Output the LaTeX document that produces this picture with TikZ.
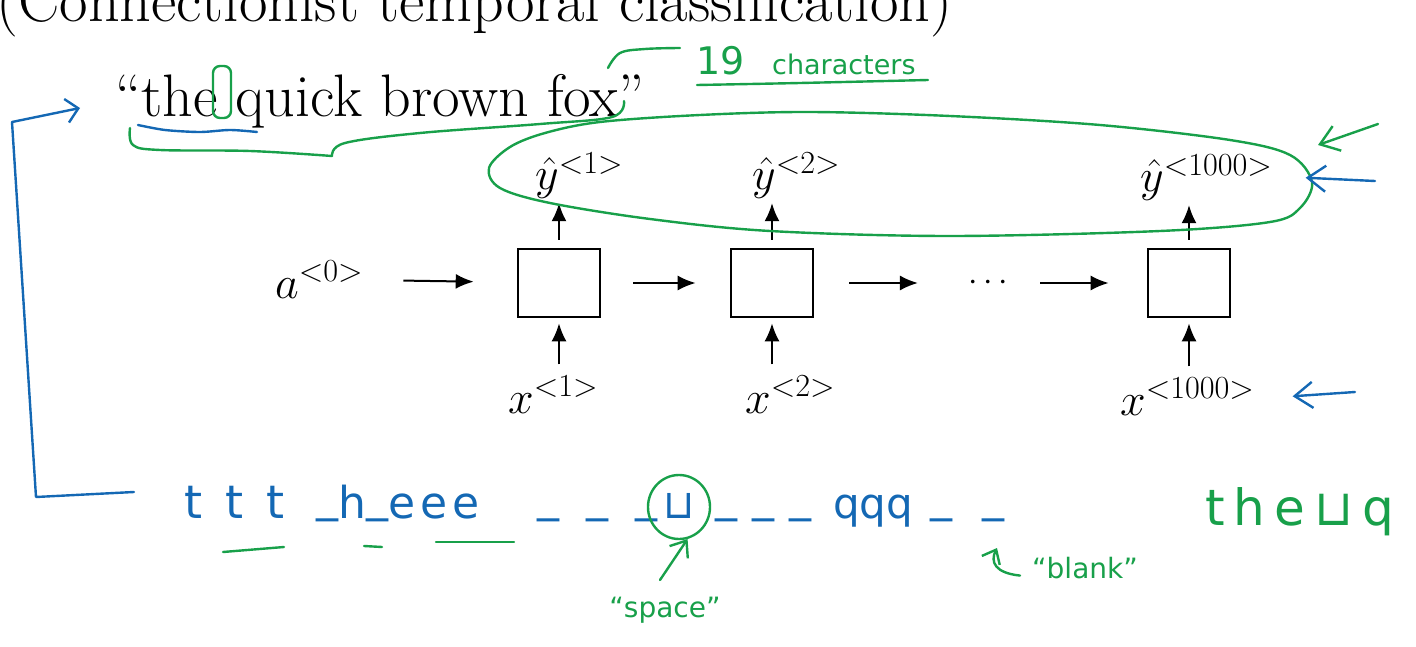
\RequirePackage{fix-cm}
\documentclass[tikz,border=0pt]{standalone}
\usepackage{fontspec}
\newfontfamily\handfont{DejaVu Sans}
\usetikzlibrary{shapes.geometric,arrows.meta,positioning}
\definecolor{penblue}{RGB}{20,104,180}
\definecolor{pengreen}{RGB}{24,160,74}
\newcommand{\ctcblank}{\raisebox{7pt}{\_}}
\tikzstyle{cell} = [rectangle, draw, line width=2.6pt, minimum width=82pt, minimum height=68pt, inner sep=0pt]
\tikzstyle{lbl} = [inner sep=0pt, anchor=base west, font=\fontsize{46}{50}\selectfont]
\tikzstyle{line} = [draw, line width=2pt, -{Latex[length=18pt,width=15pt]}]
\tikzstyle{bluepen} = [draw=penblue, line width=2.4pt, line cap=round, line join=round]
\tikzstyle{greenpen} = [draw=pengreen, line width=2.4pt, line cap=round, line join=round]
\tikzstyle{barb} = [-{Straight Barb[length=18pt,width=26pt]}]
\tikzstyle{blueink} = [text=penblue, inner sep=0pt, anchor=base west]
\tikzstyle{greenink} = [text=pengreen, inner sep=0pt]

\begin{document}
\begin{tikzpicture}[x=1pt, y=-1pt]
  \useasboundingbox (0,0) rectangle (1416,647);
  % heading and target text
  \node [anchor=base west, inner sep=0pt, font=\fontsize{62}{66}\selectfont] (title) at (-4,22) {(Connectionist temporal classification)};
  \node [anchor=base west, inner sep=0pt, font=\fontsize{60}{64}\selectfont] (sentence) at (115,117) {“the quick brown fox”};
  % rnn chain
  \node [cell] (cell1) at (559,283) {};
  \node [cell, right of=cell1, node distance=213pt] (cell2) {};
  \node [right of=cell2, node distance=216pt, inner sep=0pt, font=\fontsize{34}{38}\selectfont] (dots) {$\cdots$};
  \node [cell, right of=dots, node distance=201pt] (cell3) {};
  \node [lbl] (a0) at (275,298) {$a^{<0>}$};
  \node [lbl] (yhat1) at (535,190) {$\hat{y}^{<1>}$};
  \node [lbl] (yhat2) at (752,190) {$\hat{y}^{<2>}$};
  \node [lbl] (yhat3) at (1140,192) {$\hat{y}^{<1000>}$};
  \node [lbl] (x1) at (508,413) {$x^{<1>}$};
  \node [lbl] (x2) at (745,413) {$x^{<2>}$};
  \node [lbl] (x3) at (1120,415) {$x^{<1000>}$};
  \path [line, shorten <=40pt, shorten >=43pt] (a0) -- (cell1);
  \path [line, shorten <=32pt, shorten >=34pt] (cell1) -- (cell2);
  \path [line, shorten <=35pt, shorten >=50pt] (cell2) -- (dots);
  \path [line, shorten <=32pt, shorten >=38pt] (dots) -- (cell3);
  \path [line, shorten <=11pt, shorten >=5pt] (cell1.south |- x1.north) -- (cell1.south);
  \path [line, shorten <=11pt, shorten >=5pt] (cell2.south |- x2.north) -- (cell2.south);
  \path [line, shorten <=11pt, shorten >=5pt] (cell3.south |- x3.north) -- (cell3.south);
  \path [line, shorten <=8pt, shorten >=4pt] (cell1.north) -- (cell1.north |- yhat1.south);
  \path [line, shorten <=8pt, shorten >=4pt] (cell2.north) -- (cell2.north |- yhat2.south);
  \path [line, shorten <=8pt, shorten >=4pt] (cell3.north) -- (cell3.north |- yhat3.south);
  % green notes on the sentence
  \draw [greenpen, rounded corners=7pt] (213,66) rectangle (231,118);
  \draw [greenpen] plot [smooth, tension=0.6] coordinates {(130,128) (133,145) (160,150) (250,151) (332,156)};
  \draw [greenpen] plot [smooth, tension=0.6] coordinates {(332,156) (345,143) (420,133) (540,124) (612,117) (624,101)};
  \draw [greenpen] plot [smooth, tension=0.6] coordinates {(608,68) (620,53) (645,49) (680,48)};
  \node [greenink, anchor=base west, font=\handfont\fontsize{38}{42}\selectfont] (count) at (696,75) {19};
  \node [greenink, anchor=base west, font=\handfont\fontsize{27}{30}\selectfont] (countword) at (772,75) {characters};
  \draw [greenpen] plot [smooth] coordinates {(697,85) (800,83) (928,80)};
  \draw [greenpen] plot [smooth cycle, tension=0.55] coordinates {(489,168) (510,147) (545,133) (600,122) (700,115) (810,112) (950,116) (1100,125) (1230,140) (1290,155) (1312,182) (1300,208) (1270,222) (1160,231) (950,236) (770,231) (650,219) (550,203) (500,188)};
  % blue notes
  \draw [bluepen] plot [smooth] coordinates {(138,125) (165,130) (200,132) (230,130) (257,132)};
  \draw [bluepen, -{Straight Barb[length=12pt,width=24pt]}] (134,492) -- (36,497) -- (12,122) -- (80,108);
  \coordinate (ytail) at (1375,181);
  \coordinate (xtail) at (1355,392);
  \coordinate (looptail) at (1378,124);
  \coordinate (looptip) at (1318,145);
  \draw [bluepen, barb] (ytail) -- ([xshift=33pt]yhat3.east);
  \draw [greenpen, barb] (looptail) -- (looptip);
  \draw [bluepen, barb] (xtail) -- ([xshift=38pt]x3.east);
  % ctc output sequence
  \node [blueink, font={\handfont\fontsize{46}{50}\selectfont\addfontfeature{LetterSpace=50}}] (ttt) at (184,518) {ttt};
  \node [blueink, font={\handfont\fontsize{44}{48}\selectfont\addfontfeature{LetterSpace=12}}] (heee) at (316,518) {\ctcblank h\ctcblank eee};
  \node [blueink, font={\handfont\fontsize{44}{48}\selectfont}] (gapa) at (537,518) {\ctcblank\hspace{27pt}\ctcblank\hspace{27pt}\ctcblank};
  \node [text=penblue, inner sep=0pt, anchor=base, font={\handfont\fontsize{40}{44}\selectfont}] (spc) at (679,518) {⊔};
  \node [draw=pengreen, line width=2.4pt, ellipse, minimum width=62pt, minimum height=64pt, inner sep=0pt] (ring) at (679,507) {};
  \node [blueink, font={\handfont\fontsize{44}{48}\selectfont}] (gapb) at (715,518) {\ctcblank\hspace{15pt}\ctcblank\hspace{15pt}\ctcblank};
  \node [blueink, font={\handfont\fontsize{42}{46}\selectfont}] (qqq) at (833,518) {qqq};
  \node [blueink, font={\handfont\fontsize{44}{48}\selectfont}] (gapc) at (930,518) {\ctcblank\hspace{30pt}\ctcblank};
  \draw [greenpen] (223,552) -- (284,547);
  \draw [greenpen] (364,546) -- (382,547);
  \draw [greenpen] (436,542) -- (514,542);
  % green labels below
  \node [greenink, anchor=base, font={\handfont\fontsize{28}{32}\selectfont}] (spacelbl) at (665,617) {“space”};
  \coordinate (spacetail) at (660,580);
  \draw [greenpen, -{Straight Barb[length=14pt,width=22pt]}] (spacetail) -- (ring.-75);
  \node [greenink, anchor=base west, font={\handfont\fontsize{28}{32}\selectfont}] (blanklbl) at (1032,578) {“blank”};
  \coordinate (blanktip) at (997,548);
  \draw [greenpen, -{Straight Barb[length=12pt,width=20pt]}] ([xshift=-12pt,yshift=-8pt]blanklbl.west) .. controls (995,573) and (990,562) .. (blanktip);
  \node [greenink, anchor=base west, font={\handfont\fontsize{50}{54}\selectfont\addfontfeature{LetterSpace=18}}] (decoded) at (1205,525) {the⊔q};
\end{tikzpicture}
\end{document}
